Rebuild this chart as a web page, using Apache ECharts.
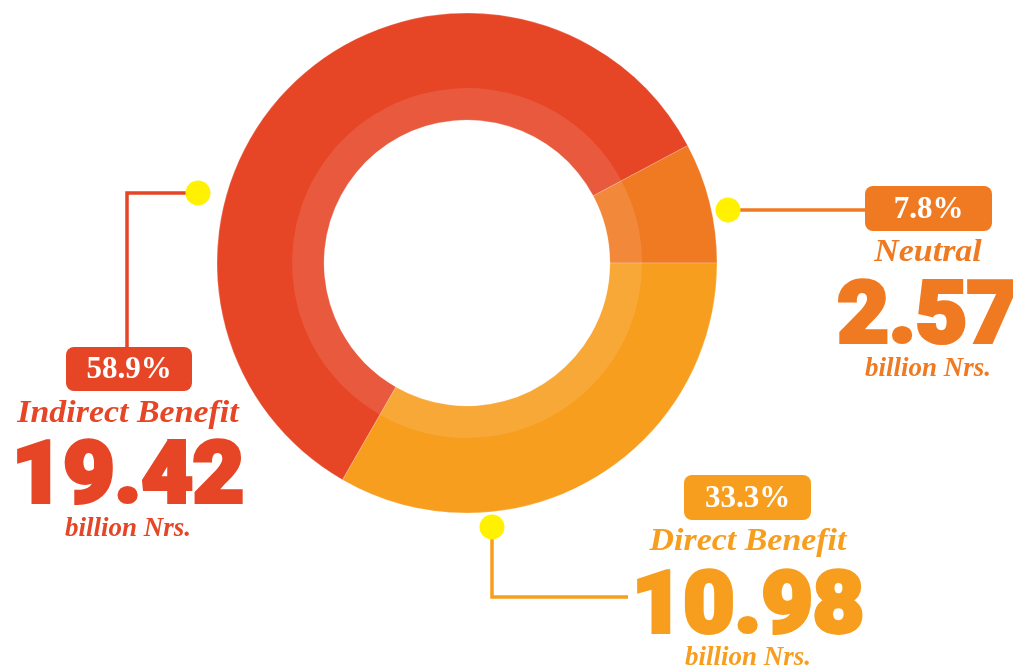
<!DOCTYPE html>
<html>
<head>
<meta charset="utf-8">
<script src="https://cdn.jsdelivr.net/npm/echarts@6/dist/echarts.min.js"></script>
<style>
html,body{margin:0;padding:0;background:#fff;}
#chart{width:1013px;height:669px;}
</style>
</head>
<body>
<div id="chart"></div>
<script>
// ---- data ----
const categories = ['Neutral', 'Direct Benefit', 'Indirect Benefit'];
const values = [2.57, 10.98, 19.42];           // billion Nrs.
const unitLabel = 'billion Nrs.';
const colors = ['#F07A22', '#F79E1F', '#E64526'];

// ---- annotation layout (positions only) ----
const layout = [
  { // Neutral
    dot: [728, 210], line: [[728, 210], [866, 210]],
    box: [865, 186, 127, 45], cx: 928, nameY: 253, bigY: 320, unitY: 369
  },
  { // Direct Benefit
    dot: [492, 527], line: [[492, 527], [492, 597], [628, 597]],
    box: [684, 475, 127, 45], cx: 748, nameY: 542, bigY: 610, unitY: 658
  },
  { // Indirect Benefit
    dot: [198, 193], line: [[198, 193], [127, 193], [127, 348]],
    box: [66, 347, 126, 44], cx: 128, nameY: 414, bigY: 480, unitY: 529
  }
];

const total = values.reduce((a, b) => a + b, 0);
const startAngle = values[0] / total * 360;

const graphics = [];
categories.forEach((name, i) => {
  const L = layout[i];
  const c = colors[i];
  const pct = (values[i] / total * 100).toFixed(1) + '%';
  graphics.push({
    type: 'polyline', silent: true, z: 10,
    shape: { points: L.line },
    style: { stroke: c, lineWidth: 3.5, fill: null }
  });
  graphics.push({
    type: 'circle', silent: true, z: 11,
    shape: { cx: L.dot[0], cy: L.dot[1], r: 12.5 },
    style: { fill: '#FFF100' }
  });
  graphics.push({
    type: 'rect', silent: true, z: 11,
    shape: { x: L.box[0], y: L.box[1], width: L.box[2], height: L.box[3], r: 8 },
    style: { fill: c }
  });
  graphics.push({
    type: 'text', silent: true, z: 12,
    style: {
      text: pct, x: L.box[0] + L.box[2] / 2, y: L.box[1] + L.box[3] / 2 + 1,
      fill: '#fff', fontFamily: 'Liberation Serif', fontWeight: 'bold', fontSize: 31,
      align: 'center', verticalAlign: 'middle'
    }
  });
  graphics.push({
    type: 'text', silent: true, z: 12,
    x: L.cx, y: L.nameY, scaleX: 1.06,
    style: {
      text: name, x: 0, y: 0,
      fill: c, fontFamily: 'Liberation Serif', fontWeight: 'bold', fontStyle: 'italic', fontSize: 32,
      align: 'center', verticalAlign: 'middle'
    }
  });
  graphics.push({
    type: 'text', silent: true, z: 12,
    x: L.cx, y: L.bigY, scaleX: 1.03,
    style: {
      text: values[i].toFixed(2), x: 0, y: 0,
      fill: c, stroke: c, lineWidth: 4,
      fontFamily: 'Roboto', fontWeight: 900, fontSize: 86,
      align: 'center', verticalAlign: 'middle'
    }
  });
  graphics.push({
    type: 'text', silent: true, z: 12,
    style: {
      text: unitLabel, x: L.cx, y: L.unitY,
      fill: c, fontFamily: 'Liberation Serif', fontWeight: 'bold', fontStyle: 'italic', fontSize: 27,
      align: 'center', verticalAlign: 'middle'
    }
  });
});

const pieData = categories.map((n, i) => ({ name: n, value: values[i], itemStyle: { color: colors[i] } }));
const bandData = categories.map((n, i) => ({ name: n, value: values[i] }));

const chart = echarts.init(document.getElementById('chart'), null, { renderer: 'canvas' });
chart.setOption({
  animation: false,
  backgroundColor: '#fff',
  series: [
    {
      type: 'pie', center: [467, 263], radius: [143, 250],
      startAngle: startAngle, clockwise: true,
      label: { show: false }, labelLine: { show: false },
      emphasis: { disabled: true }, silent: true,
      itemStyle: { borderColor: 'rgba(255,255,255,0.35)', borderWidth: 0.6 },
      data: pieData
    },
    {
      type: 'pie', center: [467, 263], radius: [143, 175],
      startAngle: startAngle, clockwise: true,
      label: { show: false }, labelLine: { show: false },
      emphasis: { disabled: true }, silent: true, z: 3,
      itemStyle: { color: 'rgba(255,255,255,0.11)', borderWidth: 0 },
      data: bandData
    }
  ],
  graphic: graphics
});
</script>
</body>
</html>
